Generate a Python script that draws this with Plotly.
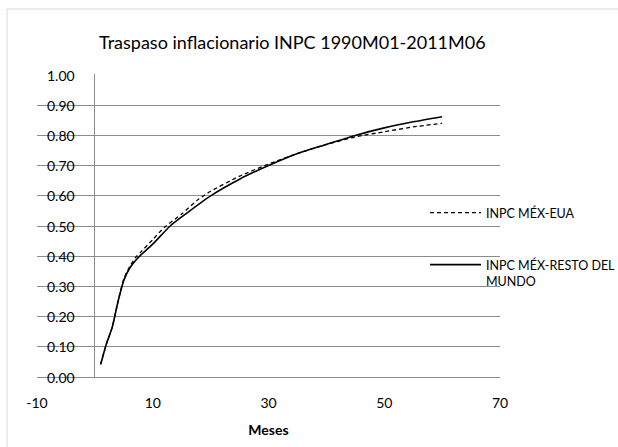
import plotly.graph_objects as go

# ---- data ----
title_text = "Traspaso inflacionario INPC 1990M01-2011M06"
x_title = "Meses"
name_eua = "INPC MÉX-EUA"
name_rm = "INPC MÉX-RESTO DEL<br>MUNDO"

meses_eua = [1, 2, 3, 4, 5, 6, 7, 8, 10, 12, 15, 18, 20, 25, 30, 35, 40, 45, 50, 55, 60]
inpc_eua = [0.042, 0.11, 0.165, 0.25, 0.325, 0.365, 0.395, 0.415, 0.455, 0.495, 0.54,
            0.59, 0.615, 0.665, 0.705, 0.74, 0.77, 0.795, 0.812, 0.828, 0.84]

meses_rm = [1, 2, 3, 4, 5, 6, 7, 8, 10, 13, 15, 20, 25, 30, 35, 40, 45, 50, 55, 60]
inpc_rm = [0.042, 0.11, 0.165, 0.25, 0.32, 0.36, 0.385, 0.405, 0.44, 0.50, 0.53,
           0.60, 0.655, 0.70, 0.74, 0.77, 0.80, 0.825, 0.845, 0.862]

x_ticks = [-10, 10, 30, 50, 70]
y_ticks = [0.0, 0.1, 0.2, 0.3, 0.4, 0.5, 0.6, 0.7, 0.8, 0.9, 1.0]
y_labels = [f"{v:.2f}" for v in y_ticks]

FONT = "Lato, 'Open Sans', sans-serif"
GRID = "#8c8c8c"

W, H = 618, 447
L, R, T, B = 37, 118, 74, 70
pw = W - L - R
ph = H - T - B
Y_TOP = 1 + 1 / (ph - 1)   # a hair above 1.00 so the 1.00 gridline is drawn

def px_x(p):
    return (p - L) / pw

def px_y(p):
    return (H - B - p) / ph

fig = go.Figure()
fig.add_trace(go.Scatter(
    x=meses_eua, y=inpc_eua, mode="lines", name=name_eua,
    line=dict(color="black", width=1.3, dash="4px,3px", shape="spline", smoothing=0.6),
    legend="legend",
))
fig.add_trace(go.Scatter(
    x=meses_rm, y=inpc_rm, mode="lines", name=name_rm,
    line=dict(color="black", width=1.6, shape="spline", smoothing=0.6),
    legend="legend2",
))

# y tick labels sit just left of the vertical axis (x = 0), as in the reference
y_label_annots = [
    dict(text=lbl, x=0, xref="x", y=v, yref="y", xanchor="right", yanchor="middle",
         xshift=-18, showarrow=False, font=dict(size=14, color="black", family=FONT))
    for v, lbl in zip(y_ticks, y_labels)
]

fig.update_layout(
    width=W, height=H,
    margin=dict(l=L, r=R, t=T, b=B, pad=0, autoexpand=False),
    paper_bgcolor="white", plot_bgcolor="white",
    font=dict(family=FONT, color="black", size=14),
    showlegend=True,
    legend=dict(x=px_x(425), y=px_y(213), xanchor="left", yanchor="middle",
                font=dict(size=12.5, color="black"), bgcolor="rgba(0,0,0,0)",
                borderwidth=0, valign="middle", itemwidth=51),
    legend2=dict(x=px_x(425), y=px_y(250), xanchor="left", yanchor="top",
                 font=dict(size=12.5, color="black"), bgcolor="rgba(0,0,0,0)",
                 borderwidth=0, valign="top", itemwidth=51),
    xaxis=dict(
        range=[-10, 70], tickmode="array", tickvals=x_ticks,
        ticktext=[str(v) for v in x_ticks],
        showgrid=False, showline=False, ticks="",
        zeroline=True, zerolinecolor=GRID, zerolinewidth=1,
        ticklabelstandoff=16,
        tickfont=dict(size=14, color="black"),
        title=dict(text="<b>" + x_title + "</b>", font=dict(size=14, color="black"), standoff=15),
    ),
    yaxis=dict(
        range=[0, Y_TOP], tickmode="array", tickvals=y_ticks,
        showticklabels=False,
        showgrid=True, gridcolor=GRID, gridwidth=1,
        zeroline=True, zerolinecolor=GRID, zerolinewidth=1,
        showline=False, ticks="",
    ),
    shapes=[dict(
        type="rect", xref="paper", yref="paper",
        x0=px_x(7), x1=px_x(640), y0=px_y(470), y1=px_y(9),
        line=dict(color="#d9d9d9", width=1), fillcolor="rgba(0,0,0,0)", layer="below",
    )],
    annotations=[dict(
        text=title_text, xref="paper", yref="paper",
        x=px_x(292), y=px_y(42), xanchor="center", yanchor="middle",
        showarrow=False, font=dict(size=18, color="black", family=FONT),
    )] + y_label_annots,
)

fig.write_html("out.html")
